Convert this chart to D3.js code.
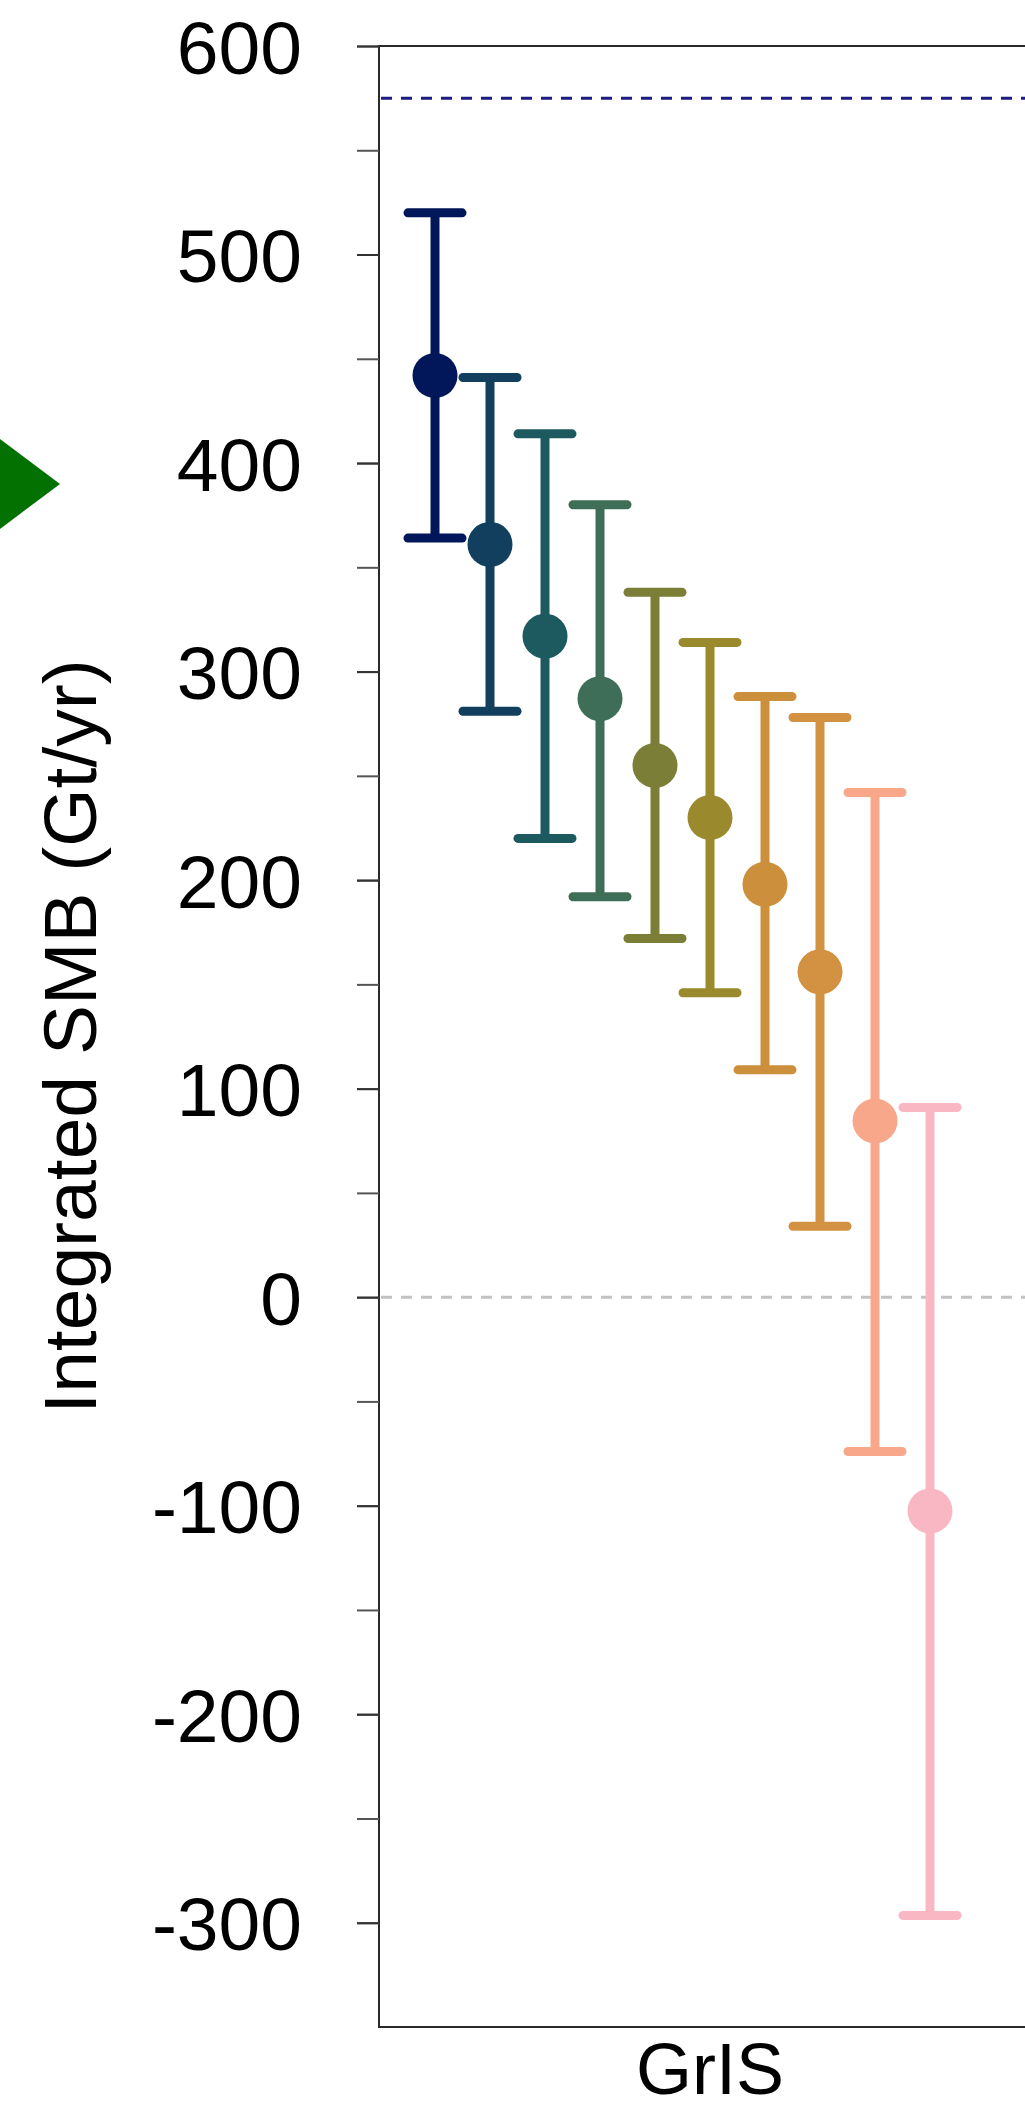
<!DOCTYPE html>
<html>
<head>
<meta charset="utf-8">
<script src="https://cdn.jsdelivr.net/npm/d3@7"></script>
<style>
  html, body { margin: 0; padding: 0; background: #fff; }
  svg { display: block; }
  text { font-family: "Liberation Sans", Arial, Helvetica, sans-serif; fill: #000; }
</style>
</head>
<body>
<svg id="chart" width="1025" height="2110"></svg>
<script>
// ---- data ----
const regions = ["GrIS"];
const scenarios = ["S1", "S2", "S3", "S4", "S5", "S6", "S7", "S8", "S9", "S10"];
const smbMean = [442, 361, 317, 287, 255, 230, 198, 156, 84.5, -102.5];
const smbHigh = [520, 441, 414, 380, 338, 314, 288, 278, 242, 91];
const smbLow  = [364, 281, 220, 192, 172, 146, 109, 34, -74, -296.5];
const scenarioColors = ["#021759", "#123f5e", "#1d5a60", "#3e6e57", "#7a7e37",
                        "#9b8a2d", "#cc8f3c", "#d39242", "#f9a78b", "#f9b7c3"];
const yTickValues = [-300, -200, -100, 0, 100, 200, 300, 400, 500, 600];
const yTickLabels = ["-300", "-200", "-100", "0", "100", "200", "300", "400", "500", "600"];
const yMinorTickValues = [-300, -250, -200, -150, -100, -50, 0, 50, 100, 150, 200, 250, 300, 350, 400, 450, 500, 550, 600];
const referenceLevel = [575];   // navy dashed reference
const zeroLevel = [0];
const markerLevel = [390];      // green triangle marker at left

// ---- layout ----
const svg = d3.select("#chart");
const margin = { left: 379, top: 46, right: 1041, bottom: 2027 };

const y = d3.scaleLinear().domain([-350, 600]).range([margin.bottom, margin.top]);
const x = d3.scaleBand().domain(regions).range([margin.left, margin.right]);
// dodge slots (11 slots, 10 scenarios used)
const slotCount = 11;
const slotWidth = 55;
const xDodge = d3.scaleBand()
  .domain(d3.range(slotCount))
  .range([-slotCount * slotWidth / 2, slotCount * slotWidth / 2]);

const data = scenarios.map((s, i) => ({
  scenario: s, region: "GrIS", mean: smbMean[i], hi: smbHigh[i], lo: smbLow[i], color: scenarioColors[i], idx: i
}));
const cx = d => x(d.region) + x.bandwidth() / 2 + xDodge(d.idx) + xDodge.bandwidth() / 2;

// ---- reference lines ----
svg.selectAll("line.zero").data(zeroLevel).join("line")
  .attr("class", "zero")
  .attr("x1", margin.left + 2).attr("x2", margin.right)
  .attr("y1", d => y(d)).attr("y2", d => y(d))
  .attr("stroke", "#c2c2c2").attr("stroke-width", 3)
  .attr("stroke-dasharray", "11,9");

svg.selectAll("line.ref").data(referenceLevel).join("line")
  .attr("class", "ref")
  .attr("x1", margin.left + 2).attr("x2", margin.right)
  .attr("y1", d => y(d)).attr("y2", d => y(d))
  .attr("stroke", "#1c1c82").attr("stroke-width", 3)
  .attr("stroke-dasharray", "11,9");

// ---- error bars ----
const g = svg.append("g");
const capHalf = 27;
data.forEach(d => {
  const gx = cx(d);
  const grp = g.append("g");
  grp.append("line")
    .attr("x1", gx).attr("x2", gx)
    .attr("y1", y(d.hi)).attr("y2", y(d.lo))
    .attr("stroke", d.color).attr("stroke-width", 9);
  [d.hi, d.lo].forEach(v => {
    grp.append("line")
      .attr("x1", gx - capHalf).attr("x2", gx + capHalf)
      .attr("y1", y(v)).attr("y2", y(v))
      .attr("stroke", d.color).attr("stroke-width", 9)
      .attr("stroke-linecap", "round");
  });
  grp.append("circle")
    .attr("cx", gx).attr("cy", y(d.mean)).attr("r", 22.5)
    .attr("fill", d.color);
});

// ---- frame ----
svg.append("rect")
  .attr("x", margin.left).attr("y", margin.top)
  .attr("width", margin.right - margin.left)
  .attr("height", margin.bottom - margin.top)
  .attr("fill", "none").attr("stroke", "#2a2a2a").attr("stroke-width", 2);

// ---- y axis ----
const yMinor = svg.append("g")
  .attr("transform", `translate(${margin.left},0)`)
  .call(d3.axisLeft(y).tickValues(yMinorTickValues).tickSize(22).tickFormat(""));
yMinor.select(".domain").remove();
yMinor.selectAll(".tick line").attr("stroke", "#555").attr("stroke-width", 2);

const yAxis = svg.append("g")
  .attr("transform", `translate(${margin.left},0)`)
  .call(d3.axisLeft(y).tickValues(yTickValues).tickSize(22).tickPadding(55)
    .tickFormat((d, i) => yTickLabels[i]));
yAxis.select(".domain").remove();
yAxis.selectAll(".tick line").attr("stroke", "#333").attr("stroke-width", 2);
yAxis.selectAll(".tick text")
  .attr("font-size", 75)
  .attr("dy", "0.36em")
  .style("font-family", "'Liberation Sans', Arial, sans-serif")
  .attr("fill", "#000");

// ---- x label ----
svg.selectAll("text.xlab").data(regions).join("text")
  .attr("class", "xlab")
  .attr("x", d => x(d) + x.bandwidth() / 2)
  .attr("y", 2094)
  .attr("text-anchor", "middle")
  .attr("font-size", 72)
  .text(d => d);

// ---- y title ----
svg.append("text")
  .attr("transform", `translate(96, ${(margin.top + margin.bottom) / 2}) rotate(-90)`)
  .attr("text-anchor", "middle")
  .attr("font-size", 75)
  .text("Integrated SMB (Gt/yr)");

// ---- green triangle marker ----
svg.selectAll("path.marker").data(markerLevel).join("path")
  .attr("class", "marker")
  .attr("d", d => {
    const ty = y(d);
    return `M60,${ty} L-20,${ty - 60} L-20,${ty + 60} Z`;
  })
  .attr("fill", "#027102");
</script>
</body>
</html>
